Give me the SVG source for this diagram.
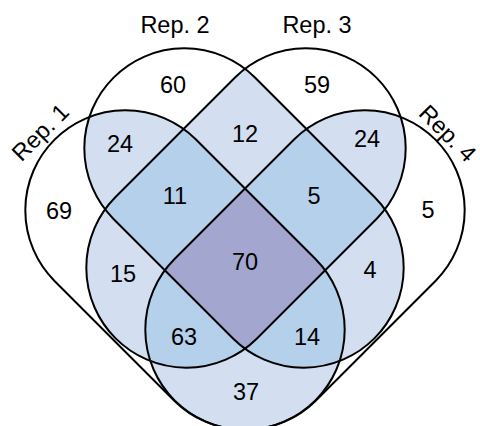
<svg xmlns="http://www.w3.org/2000/svg" width="480" height="426" viewBox="0 0 480 426">
<style>
.o{fill:none;stroke:#000;stroke-width:2}
text{font-family:"Liberation Sans",Arial,sans-serif;font-size:23.5px;fill:#000;text-anchor:middle}
.l2{fill:#D3DFF1}.l3{fill:#B4D0EB}.l4{fill:#A3A6CF}
</style>
<defs>
<path id="s1" d="M195.71,139.29 L315.71,259.29 A100,100 0 0 1 174.29,400.71 L54.29,280.71 A100,100 0 0 1 195.71,139.29 Z"/>
<path id="s2" d="M254.71,77.29 L374.71,197.29 A100,100 0 0 1 233.29,338.71 L113.29,218.71 A100,100 0 0 1 254.71,77.29 Z"/>
<path id="s3" d="M235.29,77.29 L115.29,197.29 A100,100 0 0 0 256.71,338.71 L376.71,218.71 A100,100 0 0 0 235.29,77.29 Z"/>
<path id="s4" d="M294.29,139.29 L174.29,259.29 A100,100 0 0 0 315.71,400.71 L435.71,280.71 A100,100 0 0 0 294.29,139.29 Z"/>
<clipPath id="c1"><use href="#s1"/></clipPath>
<clipPath id="c2"><use href="#s2"/></clipPath>
<clipPath id="c3"><use href="#s3"/></clipPath>
<clipPath id="c4"><use href="#s4"/></clipPath>
</defs>
<rect width="480" height="426" fill="#fff"/>
<g id="fills">
<g clip-path="url(#c1)"><use href="#s2" class="l2"/><use href="#s3" class="l2"/><use href="#s4" class="l2"/></g>
<g clip-path="url(#c2)"><use href="#s3" class="l2"/><use href="#s4" class="l2"/></g>
<g clip-path="url(#c3)"><use href="#s4" class="l2"/></g>
<g clip-path="url(#c1)"><g clip-path="url(#c2)"><use href="#s3" class="l3"/><use href="#s4" class="l3"/></g></g>
<g clip-path="url(#c3)"><g clip-path="url(#c4)"><use href="#s1" class="l3"/><use href="#s2" class="l3"/></g></g>
<g clip-path="url(#c1)"><g clip-path="url(#c2)"><g clip-path="url(#c3)"><use href="#s4" class="l4"/></g></g></g>
</g>
<g id="rep1"><use href="#s1" class="o"/><text transform="translate(46,138) rotate(-45)">Rep. 1</text></g>
<g id="rep2"><use href="#s2" class="o"/><text x="175" y="33">Rep. 2</text></g>
<g id="rep3"><use href="#s3" class="o"/><text x="317" y="33">Rep. 3</text></g>
<g id="rep4"><use href="#s4" class="o"/><text transform="translate(442,139) rotate(45)">Rep. 4</text></g>
<g id="connectors"/>
<g id="counts">
<text x="173" y="93">60</text>
<text x="317" y="93">59</text>
<text x="120" y="152">24</text>
<text x="245" y="142">12</text>
<text x="367" y="147">24</text>
<text x="59" y="219">69</text>
<text x="175" y="204">11</text>
<text x="314" y="204">5</text>
<text x="428" y="218">5</text>
<text x="245" y="270">70</text>
<text x="123" y="282">15</text>
<text x="370" y="278">4</text>
<text x="184" y="345">63</text>
<text x="307" y="345">14</text>
<text x="246" y="400">37</text>
</g>
</svg>
